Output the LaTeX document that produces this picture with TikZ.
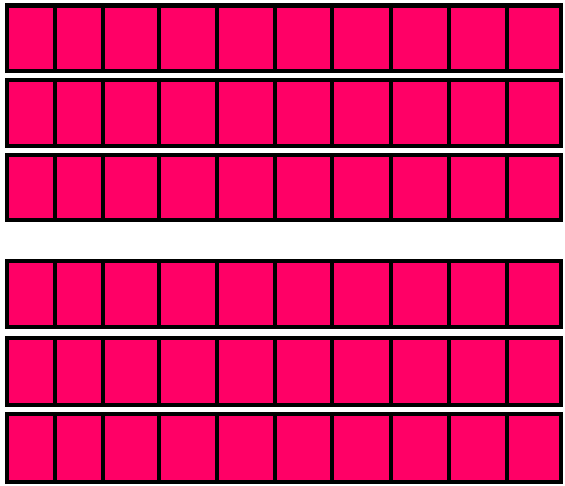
\documentclass[tikz,border=0pt]{standalone}
\usepackage{xcolor}
\definecolor{rosa}{RGB}{255,0,102}
\tikzset{
  celula/.style={draw=black, fill=rosa, line width=3.3pt},
}
\begin{document}
\begin{tikzpicture}[x=0.75pt, y=-0.75pt]
  \useasboundingbox (0,0) rectangle (565,486);
  % seis faixas de dez quadrados
  \foreach \ya/\yb in {5.5/71, 80/146, 155/220, 261/327, 338/405, 414/482}{
    \foreach \xa/\xb in {7/55, 55/103, 103/159, 159/217, 217/275, 275/332, 332/391, 391/449, 449/507, 507/561}{
      \draw[celula] (\xa,\ya) rectangle (\xb,\yb);
    }
  }
\end{tikzpicture}
\end{document}
